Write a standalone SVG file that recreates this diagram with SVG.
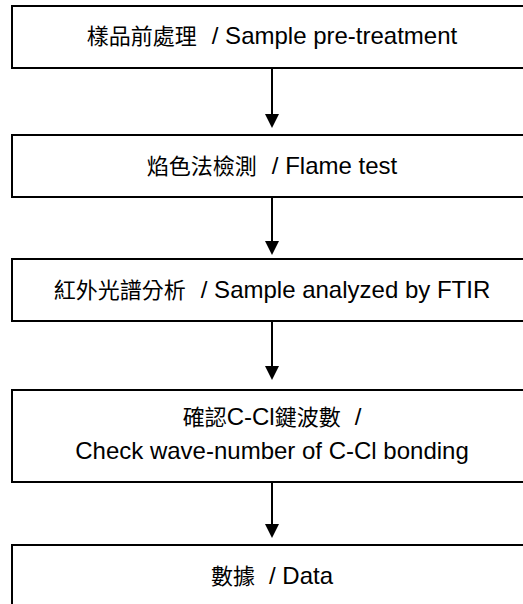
<svg xmlns="http://www.w3.org/2000/svg" width="523" height="604" viewBox="0 0 523 604">
<style>
.box{fill:#fff;stroke:#000;stroke-width:2}
.t{font-family:"Liberation Sans",Arial,sans-serif;font-size:24px;fill:#000;text-anchor:middle}
.c{font-family:"Noto Sans CJK TC","Noto Sans CJK SC",sans-serif;font-size:22px}
.conn{stroke:#000;stroke-width:2;fill:none}
</style>
<defs>
<marker id="ah" viewBox="0 0 14 14" refX="9" refY="7" markerWidth="14" markerHeight="14" markerUnits="userSpaceOnUse" orient="auto">
<path d="M0,0 L14,7 L0,14 z" fill="#000"/>
</marker>
</defs>
<rect width="523" height="604" fill="#fff"/>
<g id="connectors">
<line class="conn" x1="272" y1="68" x2="272" y2="123" marker-end="url(#ah)"/>
<line class="conn" x1="272" y1="197" x2="272" y2="250" marker-end="url(#ah)"/>
<line class="conn" x1="272" y1="321" x2="272" y2="375" marker-end="url(#ah)"/>
<line class="conn" x1="272" y1="482" x2="272" y2="533" marker-end="url(#ah)"/>
</g>
<g id="n1">
<rect class="box" x="12" y="6" width="520" height="62"/>
<text class="t" x="272" y="44"><tspan class="c">樣品前處理</tspan><tspan dx="15">/ Sample pre-treatment</tspan></text>
</g>
<g id="n2">
<rect class="box" x="12" y="135" width="520" height="62"/>
<text class="t" x="272" y="174"><tspan class="c">焰色法檢測</tspan><tspan dx="15">/ Flame test</tspan></text>
</g>
<g id="n3">
<rect class="box" x="12" y="259" width="520" height="62"/>
<text class="t" x="272" y="298"><tspan class="c">紅外光譜分析</tspan><tspan dx="15">/ Sample analyzed by FTIR</tspan></text>
</g>
<g id="n4">
<rect class="box" x="12" y="390" width="520" height="92"/>
<text class="t" x="272" y="425"><tspan class="c">確認</tspan>C-Cl<tspan class="c">鍵波數</tspan><tspan dx="14">/</tspan></text>
<text class="t" x="272" y="459">Check wave-number of C-Cl bonding</text>
</g>
<g id="n5">
<rect class="box" x="12" y="545" width="520" height="80"/>
<text class="t" x="272" y="584"><tspan class="c">數據</tspan><tspan dx="14">/ Data</tspan></text>
</g>
</svg>
